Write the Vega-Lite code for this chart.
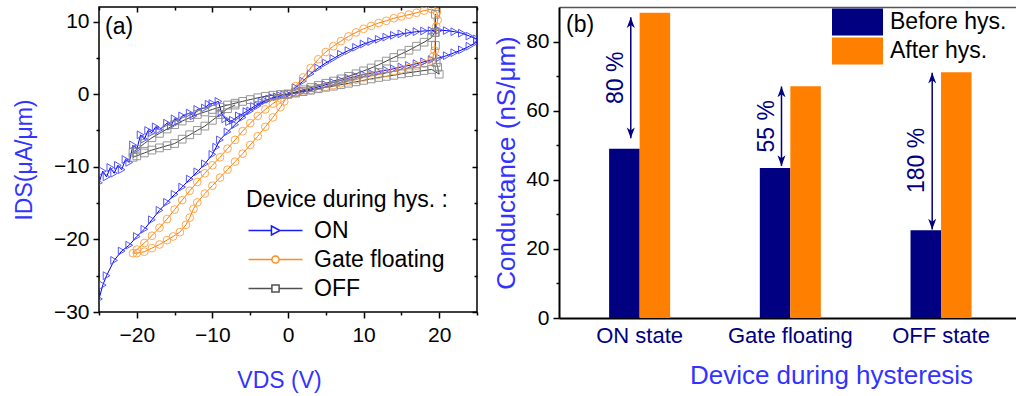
{
  "$schema": "https://vega.github.io/schema/vega-lite/v6.json",
  "background": "white",
  "padding": {"left": 12, "top": 5, "right": 0, "bottom": 0},
  "bounds": "flush",
  "spacing": 82,
  "datasets": {
    "iv": [
      {"s":"ON","v":0,"c":0},{"s":"ON","v":1,"c":0.9},{"s":"ON","v":2,"c":1.8},{"s":"ON","v":3,"c":2.8},{"s":"ON","v":4,"c":3.6},{"s":"ON","v":5,"c":4.3},{"s":"ON","v":6,"c":4.9},{"s":"ON","v":7,"c":5.5},{"s":"ON","v":8,"c":6.0},{"s":"ON","v":9,"c":6.45},{"s":"ON","v":10,"c":6.9},{"s":"ON","v":11,"c":7.25},{"s":"ON","v":12,"c":7.55},{"s":"ON","v":13,"c":7.85},{"s":"ON","v":14,"c":8.1},{"s":"ON","v":15,"c":8.3},{"s":"ON","v":16,"c":8.45},{"s":"ON","v":17,"c":8.6},{"s":"ON","v":18,"c":8.7},{"s":"ON","v":19,"c":8.75},{"s":"ON","v":20,"c":8.8},{"s":"ON","v":21,"c":8.75},{"s":"ON","v":22,"c":8.6},{"s":"ON","v":23,"c":8.4},{"s":"ON","v":24,"c":8.0},{"s":"ON","v":25,"c":7.6},
      {"s":"ON","v":25,"c":7.2},{"s":"ON","v":24,"c":6.6},{"s":"ON","v":23,"c":6.1},{"s":"ON","v":22,"c":5.7},{"s":"ON","v":21,"c":5.3},{"s":"ON","v":20,"c":5.0},{"s":"ON","v":19,"c":4.75},{"s":"ON","v":18,"c":4.45},{"s":"ON","v":17,"c":4.2},{"s":"ON","v":16,"c":3.95},{"s":"ON","v":15,"c":3.75},{"s":"ON","v":14,"c":3.5},{"s":"ON","v":13,"c":3.3},{"s":"ON","v":12,"c":3.1},{"s":"ON","v":11,"c":2.9},{"s":"ON","v":10,"c":2.7},{"s":"ON","v":9,"c":2.45},{"s":"ON","v":8,"c":2.2},{"s":"ON","v":7,"c":1.9},{"s":"ON","v":6,"c":1.6},{"s":"ON","v":5,"c":1.3},{"s":"ON","v":4,"c":1.0},{"s":"ON","v":3,"c":0.7},{"s":"ON","v":2,"c":0.45},{"s":"ON","v":1,"c":0.2},{"s":"ON","v":0,"c":0},
      {"s":"ON","v":-1,"c":-0.2},{"s":"ON","v":-2,"c":-0.5},{"s":"ON","v":-3,"c":-0.9},{"s":"ON","v":-4,"c":-1.6},{"s":"ON","v":-5,"c":-2.3},{"s":"ON","v":-6,"c":-3.2},{"s":"ON","v":-7,"c":-4.2},{"s":"ON","v":-8,"c":-5.2},{"s":"ON","v":-9,"c":-6.3},{"s":"ON","v":-9.5,"c":-7.3},{"s":"ON","v":-10,"c":-8.3},{"s":"ON","v":-11,"c":-9.6},{"s":"ON","v":-12,"c":-10.7},{"s":"ON","v":-13,"c":-11.7},{"s":"ON","v":-14,"c":-12.8},{"s":"ON","v":-15,"c":-13.8},{"s":"ON","v":-16,"c":-14.9},{"s":"ON","v":-17,"c":-16.0},{"s":"ON","v":-18,"c":-17.3},{"s":"ON","v":-19,"c":-18.6},{"s":"ON","v":-20,"c":-19.6},{"s":"ON","v":-21,"c":-20.8},{"s":"ON","v":-22,"c":-21.6},{"s":"ON","v":-23,"c":-22.9},{"s":"ON","v":-24,"c":-25.0},{"s":"ON","v":-24.5,"c":-26.3},{"s":"ON","v":-25,"c":-28.2},
      {"s":"ON","v":-25,"c":-12.2},{"s":"ON","v":-24.5,"c":-10.6},{"s":"ON","v":-24,"c":-11.4},{"s":"ON","v":-23.5,"c":-10.1},{"s":"ON","v":-23,"c":-10.9},{"s":"ON","v":-22.5,"c":-9.8},{"s":"ON","v":-22,"c":-10.4},{"s":"ON","v":-21.5,"c":-9.0},{"s":"ON","v":-21,"c":-9.4},{"s":"ON","v":-20.5,"c":-7.0},{"s":"ON","v":-20,"c":-7.6},{"s":"ON","v":-19.5,"c":-5.6},{"s":"ON","v":-19,"c":-6.2},{"s":"ON","v":-18.5,"c":-5.0},{"s":"ON","v":-18,"c":-5.3},{"s":"ON","v":-17.5,"c":-4.5},{"s":"ON","v":-17,"c":-4.9},{"s":"ON","v":-16,"c":-4.0},{"s":"ON","v":-15.5,"c":-4.4},{"s":"ON","v":-15,"c":-3.4},{"s":"ON","v":-14.5,"c":-3.8},{"s":"ON","v":-14,"c":-3.0},{"s":"ON","v":-13,"c":-2.6},{"s":"ON","v":-12.5,"c":-3.0},{"s":"ON","v":-12,"c":-2.1},{"s":"ON","v":-11,"c":-1.9},{"s":"ON","v":-10.5,"c":-1.4},{"s":"ON","v":-10,"c":-1.3},{"s":"ON","v":-9.2,"c":-1.0},{"s":"ON","v":-8.8,"c":-2.6},{"s":"ON","v":-8.3,"c":-3.4},{"s":"ON","v":-7.8,"c":-3.8},{"s":"ON","v":-7.3,"c":-3.6},{"s":"ON","v":-6.5,"c":-3.0},{"s":"ON","v":-5.5,"c":-2.4},{"s":"ON","v":-4.5,"c":-1.7},{"s":"ON","v":-3.5,"c":-1.1},{"s":"ON","v":-2.5,"c":-0.7},{"s":"ON","v":-1.5,"c":-0.35},{"s":"ON","v":-0.5,"c":-0.1},

      {"s":"Gate floating","v":0,"c":0},{"s":"Gate floating","v":1,"c":1.1},{"s":"Gate floating","v":2,"c":2.3},{"s":"Gate floating","v":3,"c":3.6},{"s":"Gate floating","v":4,"c":4.8},{"s":"Gate floating","v":5,"c":5.8},{"s":"Gate floating","v":6,"c":6.6},{"s":"Gate floating","v":7,"c":7.3},{"s":"Gate floating","v":8,"c":7.95},{"s":"Gate floating","v":9,"c":8.5},{"s":"Gate floating","v":10,"c":9.0},{"s":"Gate floating","v":11,"c":9.4},{"s":"Gate floating","v":12,"c":9.8},{"s":"Gate floating","v":13,"c":10.1},{"s":"Gate floating","v":14,"c":10.45},{"s":"Gate floating","v":15,"c":10.7},{"s":"Gate floating","v":16,"c":10.95},{"s":"Gate floating","v":17,"c":11.2},{"s":"Gate floating","v":18,"c":11.5},{"s":"Gate floating","v":19,"c":11.7},{"s":"Gate floating","v":19.7,"c":11.3},{"s":"Gate floating","v":19.8,"c":10.2},{"s":"Gate floating","v":19.6,"c":9.3},{"s":"Gate floating","v":19.4,"c":6.0},{"s":"Gate floating","v":19.2,"c":5.2},
      {"s":"Gate floating","v":19,"c":4.6},{"s":"Gate floating","v":18,"c":4.2},{"s":"Gate floating","v":17,"c":3.9},{"s":"Gate floating","v":16,"c":3.6},{"s":"Gate floating","v":15,"c":3.4},{"s":"Gate floating","v":14,"c":3.15},{"s":"Gate floating","v":13,"c":2.9},{"s":"Gate floating","v":12,"c":2.7},{"s":"Gate floating","v":11,"c":2.5},{"s":"Gate floating","v":10,"c":2.3},{"s":"Gate floating","v":9,"c":2.0},{"s":"Gate floating","v":8,"c":1.75},{"s":"Gate floating","v":7,"c":1.5},{"s":"Gate floating","v":6,"c":1.25},{"s":"Gate floating","v":5,"c":1.0},{"s":"Gate floating","v":4,"c":0.8},{"s":"Gate floating","v":3,"c":0.55},{"s":"Gate floating","v":2,"c":0.35},{"s":"Gate floating","v":1,"c":0.15},{"s":"Gate floating","v":0,"c":0},
      {"s":"Gate floating","v":-0.5,"c":-1.0},{"s":"Gate floating","v":-1,"c":-1.8},{"s":"Gate floating","v":-2,"c":-3.2},{"s":"Gate floating","v":-3,"c":-4.5},{"s":"Gate floating","v":-4,"c":-5.8},{"s":"Gate floating","v":-5,"c":-7.0},{"s":"Gate floating","v":-6,"c":-8.2},{"s":"Gate floating","v":-7,"c":-9.3},{"s":"Gate floating","v":-8,"c":-10.4},{"s":"Gate floating","v":-9,"c":-11.5},{"s":"Gate floating","v":-10,"c":-12.6},{"s":"Gate floating","v":-11,"c":-13.7},{"s":"Gate floating","v":-12,"c":-14.9},{"s":"Gate floating","v":-12.5,"c":-15.8},{"s":"Gate floating","v":-13,"c":-17.0},{"s":"Gate floating","v":-13.5,"c":-18.0},{"s":"Gate floating","v":-14.3,"c":-19.0},{"s":"Gate floating","v":-15.2,"c":-19.6},{"s":"Gate floating","v":-16,"c":-20.1},{"s":"Gate floating","v":-17,"c":-20.7},{"s":"Gate floating","v":-18,"c":-21.2},{"s":"Gate floating","v":-19,"c":-21.7},{"s":"Gate floating","v":-20,"c":-21.9},{"s":"Gate floating","v":-20.5,"c":-21.9},
      {"s":"Gate floating","v":-20,"c":-21.4},{"s":"Gate floating","v":-19,"c":-20.5},{"s":"Gate floating","v":-18,"c":-19.5},{"s":"Gate floating","v":-17,"c":-18.4},{"s":"Gate floating","v":-16,"c":-17.2},{"s":"Gate floating","v":-15,"c":-15.9},{"s":"Gate floating","v":-14,"c":-14.6},{"s":"Gate floating","v":-13,"c":-13.3},{"s":"Gate floating","v":-12,"c":-12.1},{"s":"Gate floating","v":-11,"c":-10.9},{"s":"Gate floating","v":-10,"c":-9.8},{"s":"Gate floating","v":-9,"c":-8.7},{"s":"Gate floating","v":-8,"c":-7.5},{"s":"Gate floating","v":-7,"c":-6.3},{"s":"Gate floating","v":-6,"c":-5.1},{"s":"Gate floating","v":-5,"c":-4.0},{"s":"Gate floating","v":-4,"c":-3.0},{"s":"Gate floating","v":-3,"c":-2.1},{"s":"Gate floating","v":-2,"c":-1.3},{"s":"Gate floating","v":-1,"c":-0.6},{"s":"Gate floating","v":0,"c":0},

      {"s":"OFF","v":0,"c":0},{"s":"OFF","v":1,"c":0.3},{"s":"OFF","v":2,"c":0.6},{"s":"OFF","v":3,"c":0.9},{"s":"OFF","v":4,"c":1.2},{"s":"OFF","v":5,"c":1.5},{"s":"OFF","v":6,"c":1.8},{"s":"OFF","v":7,"c":2.1},{"s":"OFF","v":8,"c":2.45},{"s":"OFF","v":9,"c":2.8},{"s":"OFF","v":10,"c":3.2},{"s":"OFF","v":11,"c":3.6},{"s":"OFF","v":12,"c":4.05},{"s":"OFF","v":13,"c":4.55},{"s":"OFF","v":14,"c":5.05},{"s":"OFF","v":15,"c":5.55},{"s":"OFF","v":16,"c":6.05},{"s":"OFF","v":17,"c":6.6},{"s":"OFF","v":18,"c":7.15},{"s":"OFF","v":19,"c":7.8},{"s":"OFF","v":19.4,"c":8.5},{"s":"OFF","v":19.5,"c":11.0},{"s":"OFF","v":19.5,"c":8.5},{"s":"OFF","v":19.5,"c":6.7},{"s":"OFF","v":19.6,"c":4.35},{"s":"OFF","v":19.8,"c":3.7},{"s":"OFF","v":20,"c":2.75},
      {"s":"OFF","v":19,"c":3.4},{"s":"OFF","v":18,"c":3.25},{"s":"OFF","v":17,"c":3.1},{"s":"OFF","v":16,"c":2.95},{"s":"OFF","v":15,"c":2.8},{"s":"OFF","v":14,"c":2.6},{"s":"OFF","v":13,"c":2.45},{"s":"OFF","v":12,"c":2.3},{"s":"OFF","v":11,"c":2.1},{"s":"OFF","v":10,"c":1.9},{"s":"OFF","v":9,"c":1.7},{"s":"OFF","v":8,"c":1.5},{"s":"OFF","v":7,"c":1.3},{"s":"OFF","v":6,"c":1.1},{"s":"OFF","v":5,"c":0.95},{"s":"OFF","v":4,"c":0.75},{"s":"OFF","v":3,"c":0.55},{"s":"OFF","v":2,"c":0.35},{"s":"OFF","v":1,"c":0.15},{"s":"OFF","v":0,"c":0},
      {"s":"OFF","v":-1,"c":-0.05},{"s":"OFF","v":-2,"c":-0.15},{"s":"OFF","v":-3,"c":-0.3},{"s":"OFF","v":-4,"c":-0.5},{"s":"OFF","v":-5,"c":-0.75},{"s":"OFF","v":-6,"c":-1.0},{"s":"OFF","v":-7,"c":-1.25},{"s":"OFF","v":-8,"c":-1.5},{"s":"OFF","v":-9,"c":-1.8},{"s":"OFF","v":-10,"c":-2.1},{"s":"OFF","v":-11,"c":-2.45},{"s":"OFF","v":-12,"c":-2.8},{"s":"OFF","v":-13,"c":-3.25},{"s":"OFF","v":-14,"c":-3.7},{"s":"OFF","v":-15,"c":-4.2},{"s":"OFF","v":-16,"c":-4.8},{"s":"OFF","v":-17,"c":-5.4},{"s":"OFF","v":-18,"c":-6.0},{"s":"OFF","v":-19,"c":-6.8},{"s":"OFF","v":-20,"c":-7.6},{"s":"OFF","v":-20.5,"c":-8.0},
      {"s":"OFF","v":-20.5,"c":-8.7},{"s":"OFF","v":-20,"c":-8.5},{"s":"OFF","v":-19,"c":-8.1},{"s":"OFF","v":-18,"c":-7.7},{"s":"OFF","v":-17,"c":-7.4},{"s":"OFF","v":-16,"c":-7.1},{"s":"OFF","v":-15,"c":-6.8},{"s":"OFF","v":-14,"c":-6.2},{"s":"OFF","v":-13,"c":-5.6},{"s":"OFF","v":-12,"c":-5.0},{"s":"OFF","v":-11,"c":-4.4},{"s":"OFF","v":-10,"c":-3.6},{"s":"OFF","v":-9,"c":-2.8},{"s":"OFF","v":-8,"c":-2.0},{"s":"OFF","v":-7,"c":-1.5}
    ],
    "bars": [
      {"state":"ON state","group":"Before hys.","value":49.0},
      {"state":"ON state","group":"After hys.","value":88.3},
      {"state":"Gate floating","group":"Before hys.","value":43.4},
      {"state":"Gate floating","group":"After hys.","value":67.1},
      {"state":"OFF state","group":"Before hys.","value":25.4},
      {"state":"OFF state","group":"After hys.","value":71.1}
    ],
    "arrows": [
      {"state":"ON state","from":52,"to":87,"mid":69.5,"pct":"80 %"},
      {"state":"Gate floating","from":44,"to":67,"mid":55.5,"pct":"55 %"},
      {"state":"OFF state","from":25.6,"to":71,"mid":45.6,"pct":"180 %"}
    ]
  },
  "hconcat": [
    {
      "width": 378,
      "height": 305,
      "view": {"stroke": "black", "strokeWidth": 1.5},
      "resolve": {
        "scale": {"color": "independent", "shape": "independent"},
        "axis": {"x": "independent", "y": "independent"}
      },
      "layer": [
        {
          "data": {"name": "iv"},
          "mark": {"type": "line", "strokeWidth": 1, "clip": true},
          "encoding": {
            "x": {"field": "v", "type": "quantitative",
              "scale": {"domain": [-25, 25], "nice": false, "zero": false},
              "axis": {"orient": "bottom", "values": [-20, -10, 0, 10, 20], "title": "VDS (V)", "tickSize": 6, "labelPadding": 6, "titlePadding": 24, "titleColor": "#3333ff", "titleFontSize": 23, "domain": false, "titleX": 180}},
            "y": {"field": "c", "type": "quantitative",
              "scale": {"domain": [-30, 12], "nice": false, "zero": false},
              "axis": {"orient": "left", "values": [-30, -20, -10, 0, 10], "title": "IDS(μA/μm)", "tickSize": 6, "labelPadding": 4, "titlePadding": 17, "titleColor": "#3333ff", "titleFontSize": 23, "domain": false}},
            "color": {"field": "s", "type": "nominal",
              "scale": {"domain": ["ON", "Gate floating", "OFF"], "range": ["#0000ff", "#ff8000", "#404040"]},
              "legend": null},
            "order": {"value": null}
          }
        },
        {
          "data": {"name": "iv"},
          "mark": {"type": "point", "filled": false, "strokeWidth": 1, "size": 60, "opacity": 0.9, "clip": true},
          "encoding": {
            "x": {"field": "v", "type": "quantitative",
              "axis": {"orient": "top", "values": [-20, -10, 0, 10, 20], "labels": false, "tickSize": 5, "offset": -5, "domain": false, "title": null}},
            "y": {"field": "c", "type": "quantitative",
              "axis": {"orient": "right", "values": [-30, -20, -10, 0, 10], "labels": false, "tickSize": 5, "offset": -5, "domain": false, "title": null}},
            "shape": {"field": "s", "type": "nominal",
              "scale": {"domain": ["ON", "Gate floating", "OFF"], "range": ["triangle-right", "circle", "square"]},
              "legend": null},
            "stroke": {"field": "s", "type": "nominal",
              "scale": {"domain": ["ON", "Gate floating", "OFF"], "range": ["#4646ff", "#ffa040", "#8c8c8c"]},
              "legend": null}
          }
        },
        {
          "data": {"values": []},
          "mark": {"type": "point", "filled": false, "opacity": 1},
          "encoding": {
            "x": {"field": "v", "type": "quantitative",
              "axis": {"orient": "bottom", "values": [-25, -15, -5, 5, 15, 25], "labels": false, "tickSize": 3, "domain": false, "title": null}},
            "y": {"field": "c", "type": "quantitative",
              "axis": {"orient": "left", "values": [-25, -15, -5, 5], "labels": false, "tickSize": 3, "domain": false, "title": null}},
            "color": {"field": "s", "type": "nominal",
              "scale": {"domain": ["ON", "Gate floating", "OFF"], "range": ["#1a1aff", "#ff8c1a", "#505050"]},
              "legend": {"title": "Device during hys. :", "orient": "none", "legendX": 147, "legendY": 182, "padding": 0,
                "symbolSize": 324, "symbolStrokeWidth": 1.5, "labelOffset": 45, "rowPadding": 5, "titlePadding": 7,
                "labelFontSize": 23, "titleFontSize": 23, "titleFontWeight": "normal", "titleColor": "black", "labelColor": "black", "titleLimit": 400, "labelLimit": 300}},
            "shape": {"field": "s", "type": "nominal",
              "scale": {"domain": ["ON", "Gate floating", "OFF"], "range": [
                "M-1,0H1.55M2.5,0H5M1.55,-0.5L2.5,0L1.55,0.5Z",
                "M-1,0H1.6M2.4,0H5M2.4,0A0.4,0.4,0,1,1,1.6,0A0.4,0.4,0,1,1,2.4,0Z",
                "M-1,0H1.6M2.4,0H5M1.6,-0.4H2.4V0.4H1.6Z"]},
              "legend": {"title": "Device during hys. :", "orient": "none", "legendX": 147, "legendY": 182, "padding": 0,
                "symbolSize": 324, "symbolStrokeWidth": 1.5, "labelOffset": 45, "rowPadding": 5, "titlePadding": 7,
                "labelFontSize": 23, "titleFontSize": 23, "titleFontWeight": "normal", "titleColor": "black", "labelColor": "black", "titleLimit": 400, "labelLimit": 300}}
          }
        },
        {
          "data": {"values": []},
          "mark": {"type": "point", "opacity": 0},
          "encoding": {
            "x": {"field": "v", "type": "quantitative",
              "axis": {"orient": "top", "values": [-25, -15, -5, 5, 15, 25], "labels": false, "tickSize": 3, "offset": -3, "domain": false, "title": null}},
            "y": {"field": "c", "type": "quantitative",
              "axis": {"orient": "right", "values": [-25, -15, -5, 5], "labels": false, "tickSize": 3, "offset": -3, "domain": false, "title": null}}
          }
        },
        {
          "data": {"values": [{"t": "(a)", "v": -24.2, "c": 9.3}]},
          "mark": {"type": "text", "align": "left", "baseline": "middle", "fontSize": 23, "color": "black"},
          "encoding": {
            "x": {"field": "v", "type": "quantitative", "axis": null},
            "y": {"field": "c", "type": "quantitative", "axis": null},
            "text": {"field": "t"}
          }
        }
      ]
    },
    {
      "width": 457,
      "height": 311,
      "view": {"stroke": null},
      "resolve": {"axis": {"x": "independent", "y": "independent"}, "scale": {"shape": "independent"}},
      "layer": [
        {
          "data": {"name": "bars"},
          "mark": {"type": "bar"},
          "encoding": {
            "x": {"field": "state", "type": "nominal",
              "scale": {"domain": ["ON state", "Gate floating", "OFF state"], "paddingInner": 0.595, "paddingOuter": 0.3137, "align": 0.53},
              "axis": {"orient": "bottom", "title": "Device during hysteresis", "labelAngle": 0, "labelColor": "#000080", "labelFontSize": 22, "ticks": false, "labelPadding": 7, "titlePadding": 16, "titleColor": "#3333ff", "titleFontSize": 26, "titleX": 272, "domainWidth": 2}},
            "xOffset": {"field": "group", "type": "nominal",
              "scale": {"domain": ["Before hys.", "After hys."], "paddingInner": 0, "paddingOuter": 0}},
            "y": {"field": "value", "type": "quantitative",
              "scale": {"domain": [0, 90], "nice": false},
              "axis": {"orient": "left", "values": [0, 20, 40, 60, 80], "title": "Conductance (nS/μm)", "tickSize": 6, "labelPadding": 4, "titlePadding": 6, "titleColor": "#3333ff", "titleFontSize": 26, "domainWidth": 2}},
            "color": {"field": "group", "type": "nominal",
              "scale": {"domain": ["Before hys.", "After hys."], "range": ["#000080", "#ff8000"]},
              "legend": {"title": null, "orient": "none", "legendX": 273, "legendY": 1.5, "padding": 0,
                "symbolType": "M-1,-1H2.78V1H-1Z", "symbolSize": 729, "symbolStrokeWidth": 0,
                "labelOffset": 31, "rowPadding": 2, "labelFontSize": 23, "labelColor": "black", "labelLimit": 300}}
          }
        },
        {
          "data": {"name": "arrows"},
          "mark": {"type": "rule", "color": "#000080", "strokeWidth": 1.5},
          "encoding": {
            "x": {"field": "state", "type": "nominal", "bandPosition": 0.355,
              "axis": {"orient": "top", "labels": false, "ticks": false, "title": null, "domain": true, "domainColor": "#555555", "domainWidth": 1.5}},
            "y": {"field": "from", "type": "quantitative",
              "axis": {"orient": "left", "values": [10, 30, 50, 70], "labels": false, "tickSize": 3, "domain": false, "title": null}},
            "y2": {"field": "to"}
          }
        },
        {
          "data": {"name": "arrows"},
          "mark": {"type": "point", "filled": true, "color": "#000080", "opacity": 1, "size": 180, "shape": "M0,0L0.6,1.6L0,1.15L-0.6,1.6Z"},
          "encoding": {
            "x": {"field": "state", "type": "nominal", "bandPosition": 0.355, "axis": null},
            "y": {"field": "to", "type": "quantitative", "axis": null}
          }
        },
        {
          "data": {"name": "arrows"},
          "mark": {"type": "point", "filled": true, "color": "#000080", "opacity": 1, "size": 180, "shape": "M0,0L0.6,-1.6L0,-1.15L-0.6,-1.6Z"},
          "encoding": {
            "x": {"field": "state", "type": "nominal", "bandPosition": 0.355, "axis": null},
            "y": {"field": "from", "type": "quantitative", "axis": null}
          }
        },
        {
          "data": {"name": "arrows"},
          "mark": {"type": "text", "angle": 270, "align": "center", "baseline": "middle", "fontSize": 23, "color": "#000080"},
          "encoding": {
            "x": {"field": "state", "type": "nominal", "bandPosition": 0.11, "axis": null},
            "y": {"field": "mid", "type": "quantitative", "axis": null},
            "text": {"field": "pct"}
          }
        },
        {
          "data": {"values": [{"state": "ON state", "y": 84.8, "t": "(b)"}]},
          "mark": {"type": "text", "align": "left", "baseline": "middle", "fontSize": 23, "color": "black", "dx": -43},
          "encoding": {
            "x": {"field": "state", "type": "nominal", "bandPosition": 0, "axis": null},
            "y": {"field": "y", "type": "quantitative", "axis": null},
            "text": {"field": "t"}
          }
        }
      ]
    }
  ],
  "resolve": {
    "scale": {"color": "independent", "shape": "independent", "x": "independent", "y": "independent"},
    "legend": {"color": "independent", "shape": "independent"}
  },
  "config": {
    "font": "Liberation Sans",
    "view": {"stroke": null},
    "axis": {
      "grid": false, "labelFont": "Liberation Sans", "titleFont": "Liberation Sans",
      "labelFontSize": 21, "labelColor": "black", "tickColor": "black", "tickWidth": 1.5,
      "domainColor": "black", "domainWidth": 1.5, "titleFontWeight": "normal", "titleFontSize": 22
    },
    "legend": {"labelFont": "Liberation Sans", "titleFont": "Liberation Sans"}
  }
}
